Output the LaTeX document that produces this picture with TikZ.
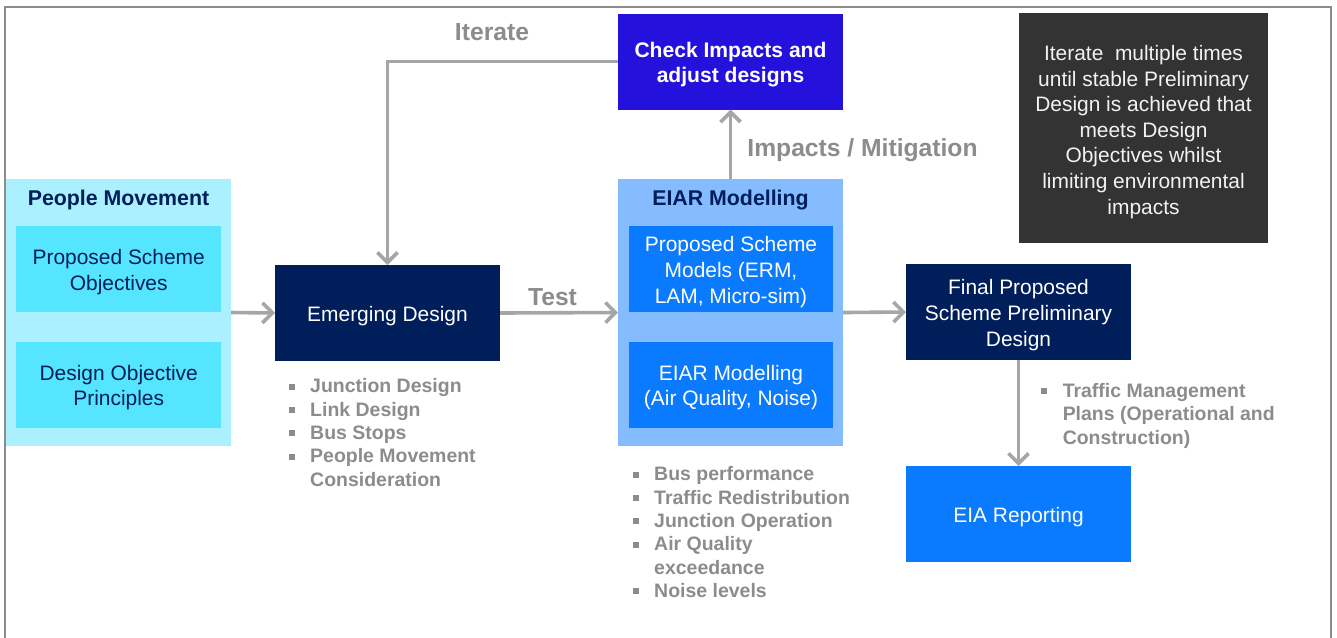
\documentclass[tikz,border=0pt]{standalone}
\usepackage{fontspec}
\setmainfont{Liberation Sans}
\usetikzlibrary{arrows.meta}
\definecolor{paleCyan}{HTML}{AAF0FF}
\definecolor{brightCyan}{HTML}{55E5FF}
\definecolor{navyBox}{HTML}{001E5A}
\definecolor{indigoBox}{HTML}{2412DC}
\definecolor{paleBlue}{HTML}{85BCFF}
\definecolor{midBlue}{HTML}{0A7AFF}
\definecolor{darkBox}{HTML}{333333}
\definecolor{greyText}{HTML}{8C8C8C}
\definecolor{greyArrow}{HTML}{A6A6A6}
\definecolor{frameGrey}{HTML}{8C8C8C}
\newcommand{\bulletitem}[1]{\makebox[16.1pt][l]{\textcolor{greyText}{\rule[2.4pt]{4.4pt}{4.4pt}}}#1}
\newcommand{\contline}[1]{\hspace*{16.1pt}#1}
\newcommand{\lowerfirst}{\rule{0pt}{15.9pt}}
\tikzset{
  box/.style={inner sep=0pt,outer sep=0pt,align=center,minimum width=168.75pt,minimum height=72pt,
    font=\fontsize{15.7}{19.2}\selectfont},
  whitebox/.style={box,text=white},
  outerpanel/.style={inner sep=0pt,outer sep=0pt,minimum width=168.75pt,minimum height=200.25pt},
  innerpanel/.style={box,minimum width=153.4pt,minimum height=64.5pt},
  heading/.style={inner sep=0pt,text=navyBox,font=\fontsize{16}{19.2}\selectfont\bfseries},
  looplabel/.style={inner sep=0pt,text=greyText,font=\fontsize{18.5}{21}\selectfont\bfseries},
  bulletlist/.style={inner sep=0pt,anchor=north west,align=left,text=greyText,
    font=\fontsize{14.6}{17.5}\selectfont\bfseries},
  flow/.style={draw=greyArrow,line width=2.7pt,-{Straight Barb[length=7.5pt,width=15pt,line width=2.7pt]}}
}
\begin{document}
\begin{tikzpicture}[x=0.75pt,y=-0.75pt]
\useasboundingbox (0,0) rectangle (1337,637);
\fill[white] (0,0) rectangle (1337,637);
\draw[frameGrey,line width=1.6pt] (5,640) -- (5,7) -- (1331,7) -- (1331,640);

\node[outerpanel,fill=paleCyan] (people) at (118.5,312.5) {};
\node[heading] (peopleHead) at (118.5,200) {People Movement};
\node[innerpanel,fill=brightCyan,text=navyBox] (objectives) at (118.75,269) {\lowerfirst Proposed Scheme\\Objectives};
\node[innerpanel,fill=brightCyan,text=navyBox] (principles) at (118.75,384.5) {\lowerfirst Design Objective\\Principles};

\node[whitebox,fill=navyBox] (emerging) at (387.5,313) {\lowerfirst Emerging Design};
\node[whitebox,fill=indigoBox,font=\fontsize{15.8}{19.2}\selectfont\bfseries] (check) at (730.5,61.5) {\lowerfirst Check Impacts and\\adjust designs};

\node[outerpanel,fill=paleBlue] (eiar) at (730.5,312.5) {};
\node[heading] (eiarHead) at (730.5,200) {EIAR Modelling};
\node[innerpanel,fill=midBlue,text=white] (models) at (731,269) {\lowerfirst Proposed Scheme\\Models (ERM,\\LAM, Micro-sim)};
\node[innerpanel,fill=midBlue,text=white] (quality) at (731,384.5) {\lowerfirst EIAR Modelling\\(Air Quality, Noise)};

\node[whitebox,fill=navyBox] (final) at (1018.5,312) {\lowerfirst Final Proposed\\Scheme Preliminary\\Design};
\node[whitebox,fill=midBlue] (report) at (1018.5,514) {\lowerfirst EIA Reporting};

\node[box,fill=darkBox,text=white!95!black,minimum width=186.75pt,minimum height=172.5pt] (note) at (1143.5,128)
  {\rule{0pt}{17.2pt}Iterate\ \ multiple times\\until stable Preliminary\\Design is achieved that\\meets Design\\Objectives whilst\\limiting environmental\\impacts};

\draw[flow] (people.east) -- (emerging.west);
\draw[flow] (emerging.east) -- (eiar.west);
\draw[flow] (check.west) -| (emerging.north);
\draw[flow] (eiar.north) -- (check.south);
\draw[flow] (eiar.east) -- (final.west);
\draw[flow] (final.south) -- (report.north);

\node[looplabel] (iterateLabel) at (492,32) {Iterate};
\node[looplabel] (testLabel) at (552.5,297) {Test};
\node[looplabel] (impactsLabel) at (862.5,150) {Impacts / Mitigation};

\node[bulletlist] (emergingList) at (288.5,378.5) {\bulletitem{Junction Design}\\\bulletitem{Link Design}\\\bulletitem{Bus Stops}\\\bulletitem{People Movement}\\\contline{Consideration}};
\node[bulletlist] (eiarList) at (632.5,466.5) {\bulletitem{Bus performance}\\\bulletitem{Traffic Redistribution}\\\bulletitem{Junction Operation}\\\bulletitem{Air Quality}\\\contline{exceedance}\\\bulletitem{Noise levels}};
\node[bulletlist] (finalList) at (1041,383) {\bulletitem{Traffic Management}\\\contline{Plans (Operational and}\\\contline{Construction)}};
\end{tikzpicture}
\end{document}
